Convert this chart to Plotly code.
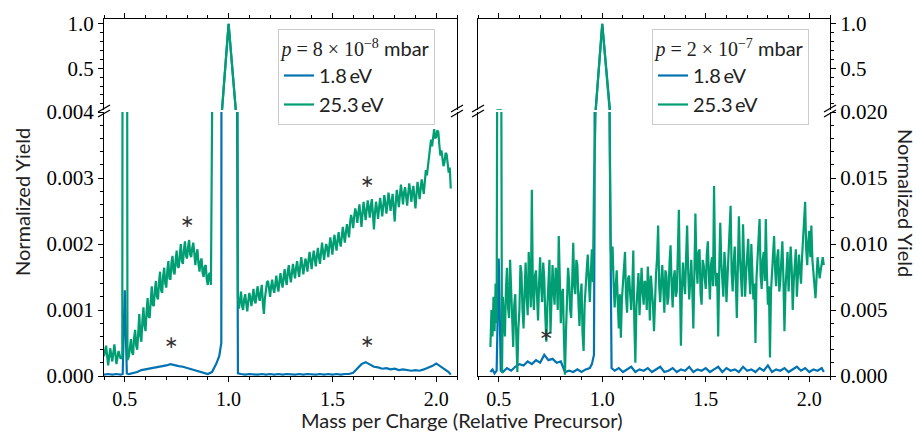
import numpy as np
import plotly.graph_objects as go


def grid(a, b, step):
    return list(np.round(np.arange(a, b + step / 2, step), 3))


# ---------------- left panel: p = 8e-8 mbar (yields in units of 1e-4) ----------------
left_green_x = (grid(0.40, 0.48, 0.01) + [0.488, 0.492, 0.508, 0.513] + grid(0.52, 0.915, 0.005)
                + [0.925, 0.95, 0.968, 1.0, 1.035, 1.04, 1.045] + grid(1.05, 2.07, 0.005))
left_green_y = [
    3.0, 4.6, 1.6, 4.2, 2.2, 4.8, 1.8, 3.8, 2.6,
    3.0, 150, 150, 2.4,
    3.0, 4.4, 5.6, 3.6, 3.2, 5.8, 7.0, 4.6, 4.0, 6.6,
    9.4, 6.0, 5.2, 8.4, 10.4, 7.6, 6.8, 9.8, 11.8, 9.0,
    8.8, 11.4, 13.6, 10.8, 10.6, 13.0, 14.4, 12.0, 11.6, 14.2,
    15.8, 13.0, 12.6, 15.2, 16.4, 14.0, 13.4, 16.0, 17.4, 14.8,
    14.6, 17.2, 18.2, 15.8, 15.4, 17.6, 19.0, 16.6, 16.4, 18.4,
    20.0, 17.4, 17.0, 19.2, 20.4, 18.2, 17.8, 19.6, 20.6, 18.4,
    18.0, 19.4, 20.2, 18.6, 16.8, 18.4, 19.2, 17.0, 15.8, 17.4,
    17.8, 15.6, 15.0, 16.6, 16.8, 14.6, 13.8, 15.4, 15.6, 13.8,
    60, 120, 200, 10000, 200, 80, 12.0,
    10.2, 11.8, 12.8, 10.6, 10.0, 11.6, 12.4, 11.0, 9.8, 11.4, 12.6, 11.8, 10.6, 12.0, 13.2, 11.4, 11.0, 12.6, 13.6, 12.0,
    11.4, 12.8, 13.8, 11.0, 9.4, 11.8, 13.0, 14.2, 14.4, 12.6, 12.0, 13.6, 14.6, 13.2, 12.6, 14.0, 15.2, 13.6, 12.8, 14.4,
    15.6, 14.2, 13.4, 15.0, 16.2, 14.6, 13.8, 15.8, 16.8, 15.2, 14.2, 15.6, 17.0, 15.8, 14.8, 16.4, 17.4, 16.0, 15.0, 16.6,
    18.0, 16.8, 15.4, 16.6, 17.8, 17.0, 15.8, 17.6, 18.8, 17.4, 16.2, 17.8, 19.0, 17.8, 16.6, 18.2, 19.4, 18.0, 17.0, 18.6,
    20.2, 18.8, 17.6, 19.0, 20.0, 19.4, 18.0, 19.6, 21.0, 19.8, 18.4, 20.2, 21.4, 20.0, 19.0, 20.6, 21.8, 20.4, 19.6, 21.0,
    22.6, 21.4, 20.2, 21.8, 23.0, 22.0, 21.0, 23.2, 24.4, 23.6, 22.4, 24.2, 25.4, 24.6, 23.2, 24.8, 26.0, 24.4, 22.6, 24.6,
    26.4, 25.0, 23.6, 25.2, 26.6, 25.4, 24.0, 25.8, 26.8, 24.6, 22.2, 24.8, 26.4, 25.2, 23.8, 25.6, 27.0, 25.6, 24.2, 25.8,
    27.4, 26.2, 24.6, 26.0, 27.8, 26.6, 25.0, 26.4, 27.6, 25.4, 23.4, 26.2, 28.2, 27.0, 25.6, 27.4, 29.0, 27.6, 26.0, 27.8,
    28.6, 27.2, 25.8, 27.6, 29.2, 28.0, 26.4, 27.8, 28.8, 27.0, 25.4, 27.6, 29.4, 28.2, 26.8, 28.4, 29.8, 28.6, 27.6, 29.4,
    31.2, 30.4, 31.8, 33.6, 34.6, 35.8, 34.8, 36.6, 37.4, 36.0, 36.2, 37.2, 37.0, 35.0, 33.4, 34.2, 33.0, 31.8, 32.4, 33.8,
    33.6, 32.0, 30.8, 31.6, 28.4,
]
left_blue_x = (grid(0.40, 0.48, 0.02) + [0.49, 0.50, 0.51] + grid(0.52, 0.94, 0.02)
               + [0.955, 0.965, 0.968, 1.0, 1.035, 1.04, 1.045] + grid(1.06, 2.06, 0.02) + [2.07])
left_blue_y = [
    0.2, 0.3, 0.2, 0.3, 0.2,
    0.3, 13.0, 0.4,
    0.3, 0.4, 0.6, 0.9, 1.0, 1.2, 1.3, 1.4, 1.5, 1.6, 1.8,
    1.6, 1.5, 1.4, 1.2, 1.0, 0.9, 0.6, 0.4, 0.3, 0.6, 1.8,
    3.0, 5.0, 200, 10000, 200, 50, 0.4,
    0.3, 0.2, 0.3, 0.2, 0.2, 0.3, 0.2, 0.3, 0.2, 0.3,
    0.2, 0.3, 0.2, 0.2, 0.3, 0.2, 0.3, 0.2, 0.2, 0.3,
    0.2, 0.3, 0.2, 0.3, 0.2, 0.3, 0.3, 0.5, 1.2, 1.8,
    2.1, 1.8, 1.4, 1.3, 1.1, 1.2, 1.0, 1.1, 0.9, 1.0,
    0.9, 0.8, 0.9, 0.8, 1.0, 1.2, 1.5, 1.9, 1.5, 1.1,
    0.6, 0.2,
]

# ---------------- right panel: p = 2e-7 mbar (yields in units of 1e-3) ----------------
right_green_x = ([0.46, 0.465, 0.47, 0.475, 0.48, 0.485, 0.49, 0.493, 0.512, 0.516]
                 + grid(0.52, 0.955, 0.005) + [0.96, 0.968, 1.0, 1.036, 1.04, 1.045] + grid(1.05, 2.07, 0.005))
right_green_y = [
    2.2, 5.0, 3.0, 6.0, 3.4, 7.0, 4.0, 25, 25, 0.2,
    6.0, 4.8, 3.0, 6.6, 8.2, 5.2, 4.4, 8.8, 7.0, 4.0,
    2.2, 5.4, 6.2, 3.0, 0.3, 3.6, 5.0, 8.4, 7.8, 5.0,
    3.6, 6.4, 8.6, 6.0, 4.6, 9.4, 7.2, 5.2, 14.1, 6.4,
    5.0, 7.6, 8.0, 5.8, 4.2, 7.0, 9.0, 6.8, 5.6, 8.6,
    7.4, 4.6, 2.6, 5.2, 6.8, 8.8, 3.2, 6.0, 8.4, 6.4,
    5.4, 8.2, 7.6, 5.0, 10.6, 7.4, 4.0, 6.2, 6.6, 3.0,
    0.1, 3.4, 5.8, 8.2, 7.2, 5.0, 4.4, 7.6, 10.1, 6.8,
    6.2, 8.8, 8.4, 5.6, 3.8, 6.2, 7.0, 3.2, 1.9, 5.4,
    6.4, 8.0, 9.2, 6.8, 5.6, 7.8, 9.6, 7.1,
    14.3, 20, 1000, 20, 10.6, 8.0,
    9.8, 7.0, 5.2, 6.8, 8.0, 5.6, 3.6, 6.2, 2.9, 5.8, 7.2, 8.0, 9.4, 6.0, 4.8, 7.4, 7.6, 6.2, 5.0, 6.6,
    9.5, 4.0, 1.0, 5.2, 6.8, 7.8, 4.6, 6.0, 8.2, 6.4, 5.4, 7.2, 7.0, 5.0, 8.3, 6.8, 4.2, 7.6, 6.6, 5.4,
    3.4, 6.4, 7.8, 9.0, 11.4, 6.8, 5.6, 7.2, 8.4, 6.6, 4.8, 8.0, 7.6, 5.4, 6.0, 8.6, 9.9, 7.0, 5.2, 7.4,
    8.0, 6.0, 6.4, 9.2, 12.6, 7.4, 2.3, 6.8, 8.6, 7.0, 6.2, 9.0, 11.4, 8.0, 5.8, 7.2, 8.8, 6.6, 3.6, 7.8,
    12.3, 8.4, 7.0, 9.4, 9.6, 6.2, 5.4, 8.8, 8.4, 7.4, 6.6, 9.2, 10.2, 7.6, 5.8, 8.4, 9.0, 6.8, 14.4, 8.2,
    6.8, 7.8, 3.0, 8.0, 11.6, 8.6, 7.2, 6.0, 9.4, 8.2, 5.6, 7.4, 8.8, 10.4, 12.9, 7.8, 6.4, 8.6, 9.8, 7.2,
    4.4, 8.2, 12.1, 9.0, 7.4, 6.0, 11.5, 8.4, 6.0, 7.8, 9.2, 10.4, 7.6, 6.2, 10.0, 8.4, 5.8, 7.0, 2.5, 7.4,
    8.8, 10.2, 11.9, 7.6, 6.6, 8.8, 9.4, 7.2, 11.9, 8.0, 5.4, 6.8, 1.4, 6.4, 8.2, 9.6, 10.6, 8.0, 6.8, 9.0,
    9.6, 6.4, 7.2, 8.8, 10.2, 7.4, 3.4, 6.6, 8.6, 9.4, 6.4, 7.8, 9.8, 8.2, 5.0, 7.2, 8.8, 9.6, 6.0, 8.4,
    9.2, 8.0, 7.0, 9.0, 10.6, 11.8, 13.2, 9.6, 8.4, 10.2, 11.0, 9.0, 11.4, 8.8, 7.6, 6.4, 5.9, 7.4, 9.0, 8.2,
    7.4, 8.0, 8.6, 9.0, 8.4,
]
right_blue_x = ([0.46, 0.47, 0.48, 0.49, 0.50, 0.51] + grid(0.52, 0.94, 0.02)
                + [0.95, 0.96, 0.963, 0.968, 1.0, 1.035, 1.038, 1.045] + grid(1.06, 2.06, 0.02) + [2.07])
right_blue_y = [
    0.3, 0.5, 0.2, 0.4, 8.9, 0.4,
    0.3, 0.6, 0.4, 0.7, 0.9, 0.8, 1.1, 0.9, 1.2, 1.0, 1.6,
    1.2, 1.3, 1.0, 1.1, 0.3, 0.4, 0.3, 0.5, 0.3, 0.5, 0.6,
    0.9, 1.6, 13.0, 20, 1000, 20, 13.0, 0.6,
    0.4, 0.6, 0.3, 0.5, 0.7, 0.3, 0.5, 0.4, 0.6, 0.3,
    0.5, 0.7, 0.3, 0.4, 0.6, 0.3, 0.5, 0.4, 0.7, 0.3,
    0.5, 0.4, 0.6, 0.3, 0.5, 0.7, 0.3, 0.6, 0.4, 0.5,
    0.3, 0.7, 0.4, 0.5, 0.3, 0.6, 0.4, 0.8, 0.3, 0.5,
    0.4, 0.6, 0.3, 0.5, 0.7, 0.4, 0.6, 0.3, 0.5, 0.4,
    0.6, 0.3,
]

# asterisk markers (x, y) on the lower axes
left_stars_x = [0.80, 0.724, 1.665, 1.665]
left_stars_y = [0.00235, 0.00052, 0.00295, 0.00053]
right_stars_x = [0.726]
right_stars_y = [0.00316]

BLUE = "#0173B2"
GREEN = "#029E73"
SERIF = "Liberation Serif"
SANS = "Lato"

lg_y = [v * 1e-4 for v in left_green_y]
lb_y = [v * 1e-4 for v in left_blue_y]
rg_y = [v * 1e-3 for v in right_green_y]
rb_y = [v * 1e-3 for v in right_blue_y]

fig = go.Figure()

panels = [
    ("x", "y", "x2", "y2", "legend", left_blue_x, lb_y, left_green_x, lg_y),
    ("x3", "y3", "x4", "y4", "legend2", right_blue_x, rb_y, right_green_x, rg_y),
]
for xt, yt, xb, yb, leg, bx, by, gx, gy in panels:
    for (xa, ya, show) in [(xt, yt, False), (xb, yb, True)]:
        fig.add_trace(go.Scatter(x=bx, y=by, mode="lines", name="1.8\u2009eV",
                                 line=dict(color=BLUE, width=2.2), xaxis=xa, yaxis=ya,
                                 showlegend=show, legend=leg))
        fig.add_trace(go.Scatter(x=gx, y=gy, mode="lines", name="25.3\u2009eV",
                                 line=dict(color=GREEN, width=2.2), xaxis=xa, yaxis=ya,
                                 showlegend=show, legend=leg))

W, H = 919, 432
xl = [104 / W, 457 / W]
xr = [478 / W, 830 / W]
top_dom = [1 - 110 / H, 1 - 19 / H]
bot_dom = [1 - 376 / H, 1 - 112 / H]

tickfont = dict(family=SERIF, size=21, color="black")
common = dict(showline=True, linecolor="black", linewidth=1.3, ticks="outside",
              ticklen=5, tickwidth=1.3, tickcolor="black", showgrid=False,
              zeroline=False, tickfont=tickfont, automargin=False)


def xax(dom, anchor, side, labels):
    return dict(common, domain=dom, anchor=anchor, side=side, range=[0.4, 2.1],
                tick0=0, dtick=0.5, tickformat=".1f", showticklabels=labels,
                tickfont=dict(family=SERIF, size=20, color="black"),
                minor=dict(dtick=0.1, tick0=0, ticks="outside", ticklen=3, tickcolor="black"))


def yax(dom, anchor, side, rng, dt, mdt, fmt):
    return dict(common, domain=dom, anchor=anchor, side=side, range=rng, mirror=True,
                tick0=0, dtick=dt, tickformat=fmt,
                minor=dict(dtick=mdt, tick0=0, ticks="outside", ticklen=3, tickcolor="black"))


legend_common = dict(xanchor="left", yanchor="top", bgcolor="rgba(255,255,255,0.85)",
                     bordercolor="#cccccc", borderwidth=1, tracegroupgap=0,
                     font=dict(family=SANS, size=20, color="#222"), itemwidth=30)


def leg_title(exp, mant):
    return dict(text=(f'<span style="font-family:{SERIF}"><i>p</i> = {mant} × 10<sup>−{exp}</sup></span> mbar'),
                side="top center", font=dict(family=SANS, size=20, color="#222"))


fig.update_layout(
    width=W, height=H, margin=dict(l=0, r=0, t=0, b=0),
    paper_bgcolor="white", plot_bgcolor="white",
    xaxis=xax(xl, "y", "top", False),
    yaxis=yax(top_dom, "x", "left", [0.03, 1.055], 0.5, 0.1, ".1f"),
    xaxis2=xax(xl, "y2", "bottom", True),
    yaxis2=yax(bot_dom, "x2", "left", [0, 0.004], 0.001, 0.0002, ".3f"),
    xaxis3=xax(xr, "y3", "top", False),
    yaxis3=yax(top_dom, "x3", "right", [0.03, 1.055], 0.5, 0.1, ".1f"),
    xaxis4=xax(xr, "y4", "bottom", True),
    yaxis4=yax(bot_dom, "x4", "right", [0, 0.02], 0.005, 0.001, ".3f"),
    legend=dict(legend_common, x=278 / W, y=1 - 29 / H, title=leg_title(8, 8)),
    legend2=dict(legend_common, x=652 / W, y=1 - 29 / H, title=leg_title(7, 2)),
)

# axis-break marks
shapes = []
for xs in [xl[0], xl[1], xr[0], xr[1]]:
    for ya, y0, y1 in [(top_dom[0], -2, 5), (bot_dom[1], -5, 2)]:
        shapes.append(dict(type="line", xref="paper", yref="paper", xsizemode="pixel",
                           ysizemode="pixel", xanchor=xs, yanchor=ya, x0=-6, x1=6,
                           y0=y0, y1=y1, line=dict(color="black", width=1.3)))
fig.update_layout(shapes=shapes)

ann = []
star_font = dict(family="DejaVu Sans", size=17, color="#333")
for sx, sy in zip(left_stars_x, left_stars_y):
    ann.append(dict(x=sx, y=sy, xref="x2", yref="y2", text="∗", showarrow=False, font=star_font))
for sx, sy in zip(right_stars_x, right_stars_y):
    ann.append(dict(x=sx, y=sy, xref="x4", yref="y4", text="∗", showarrow=False, font=star_font))
title_font = dict(family=SANS, size=20, color="#222")
ann.append(dict(x=462 / W, y=1 - 420 / H, xref="paper", yref="paper", showarrow=False,
                xanchor="center", yanchor="middle",
                text="Mass per Charge (Relative Precursor)", font=title_font))
ann.append(dict(x=22 / W, y=1 - 202 / H, xref="paper", yref="paper", showarrow=False,
                xanchor="center", yanchor="middle",
                text="Normalized Yield", textangle=-90, font=title_font))
ann.append(dict(x=906 / W, y=1 - 203 / H, xref="paper", yref="paper", showarrow=False,
                xanchor="center", yanchor="middle",
                text="Normalized Yield", textangle=90, font=title_font))
fig.update_layout(annotations=ann)

fig.write_html("out.html", config={"displayModeBar": False},
               post_script="document.body.style.margin='0px';")
